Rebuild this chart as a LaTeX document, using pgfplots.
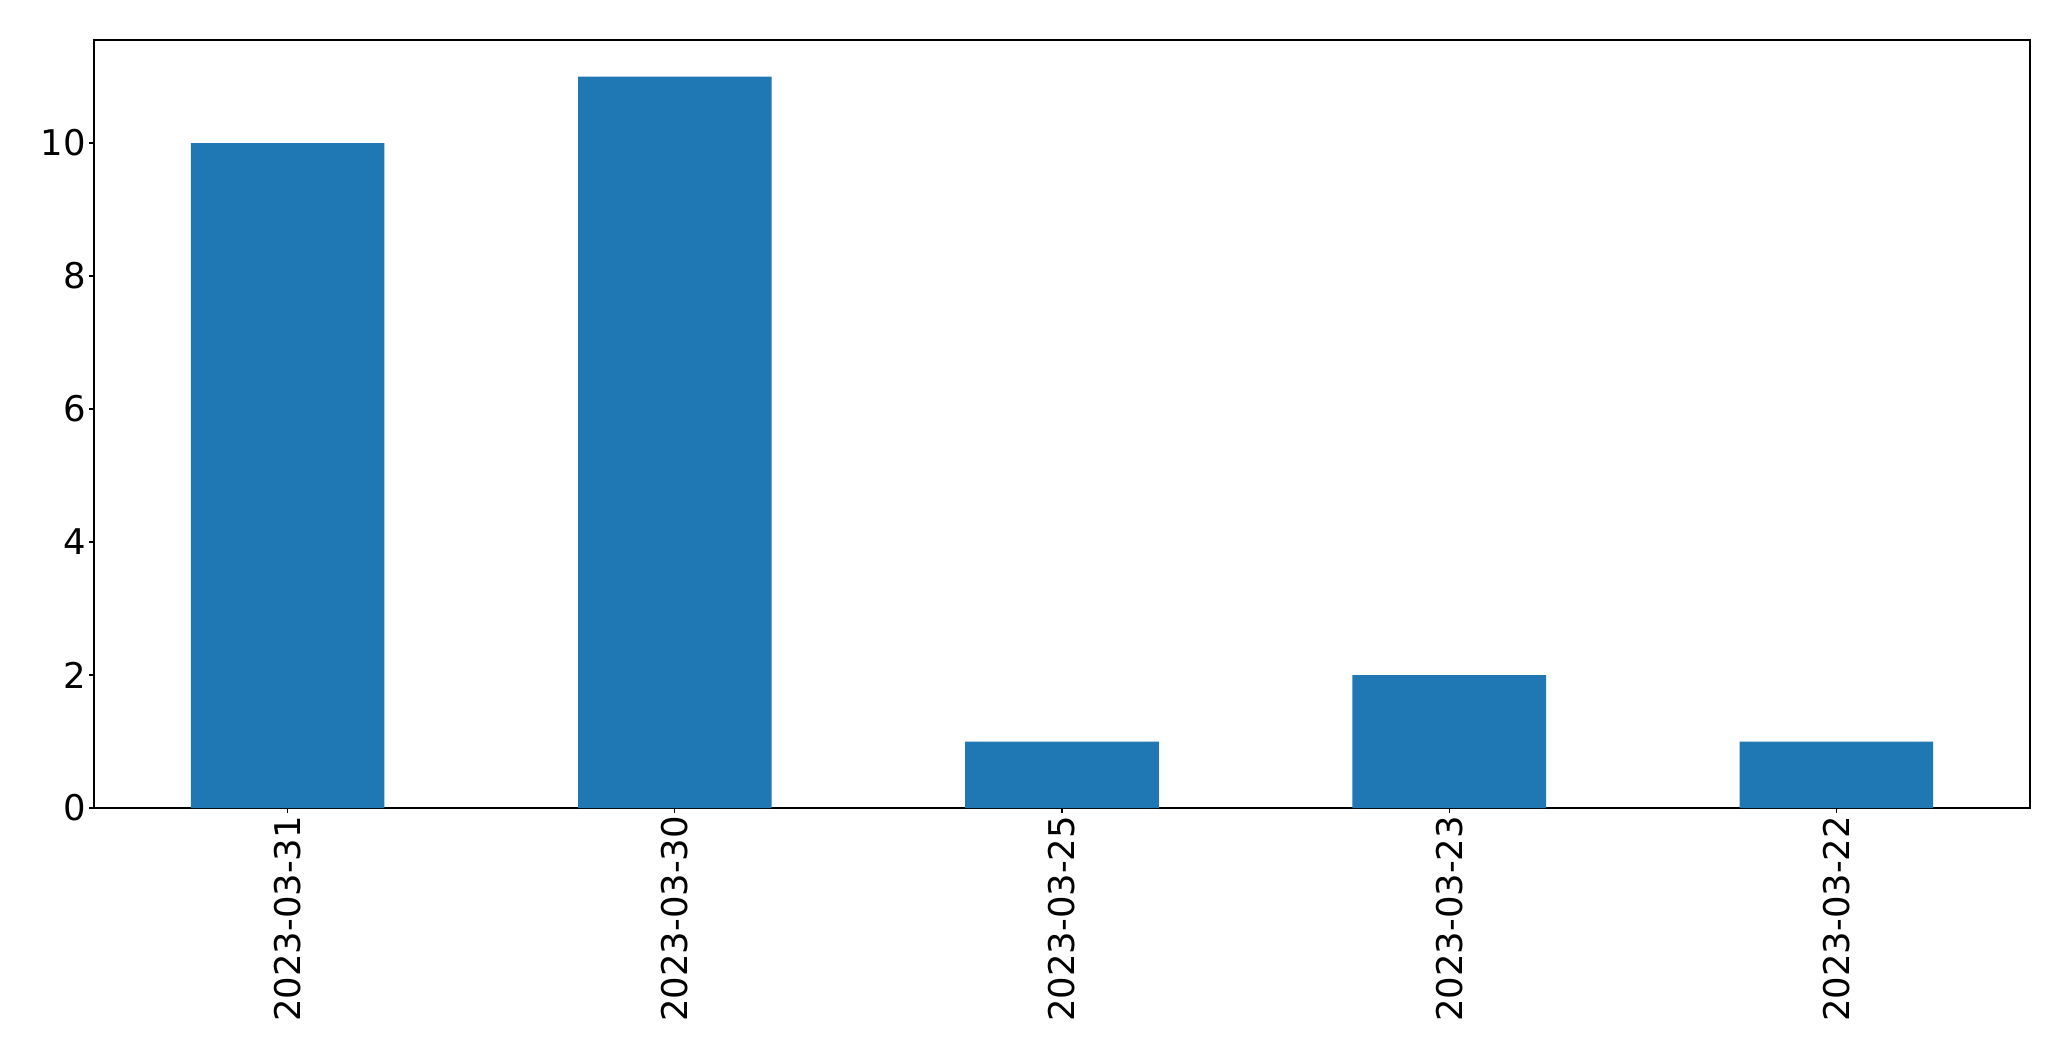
\documentclass[border=0pt]{standalone}
\usepackage{pgfplots}
\pgfplotsset{compat=1.18}
\usepackage{fontspec}
\setmainfont{DejaVu Sans}
\definecolor{mplblue}{HTML}{1F77B4}
\begin{document}
\begin{tikzpicture}
\path[use as bounding box] (-67.7pt,-182.1pt) rectangle (1423.4pt,581.8pt);
\begin{axis}[
  at={(0,0)}, anchor=south west,
  scale only axis,
  width=1393.9pt, height=553pt,
  xmin=-0.5, xmax=4.5,
  ymin=0, ymax=11.55,
  xtick={0,1,2,3,4},
  xticklabels={2023-03-31,2023-03-30,2023-03-25,2023-03-23,2023-03-22},
  x tick label style={yshift=1.5pt, rotate=90, anchor=east},
  y tick label style={xshift=1.3pt},
  ytick={0,2,4,6,8,10},
  tick label style={font=\fontsize{25.5}{30}\selectfont},
  /pgf/number format/assume math mode=true,
  tick align=outside,
  major tick length=3.6pt,
  xtick pos=bottom, ytick pos=left,
  axis line style={line width=0.9pt},
  every tick/.style={black, line width=0.9pt},
  ybar, bar width=0.5, bar shift=0pt,
]
\addplot[fill=mplblue, draw=none] coordinates {(0,10) (1,11) (2,1) (3,2) (4,1)};
\end{axis}
\end{tikzpicture}
\end{document}
